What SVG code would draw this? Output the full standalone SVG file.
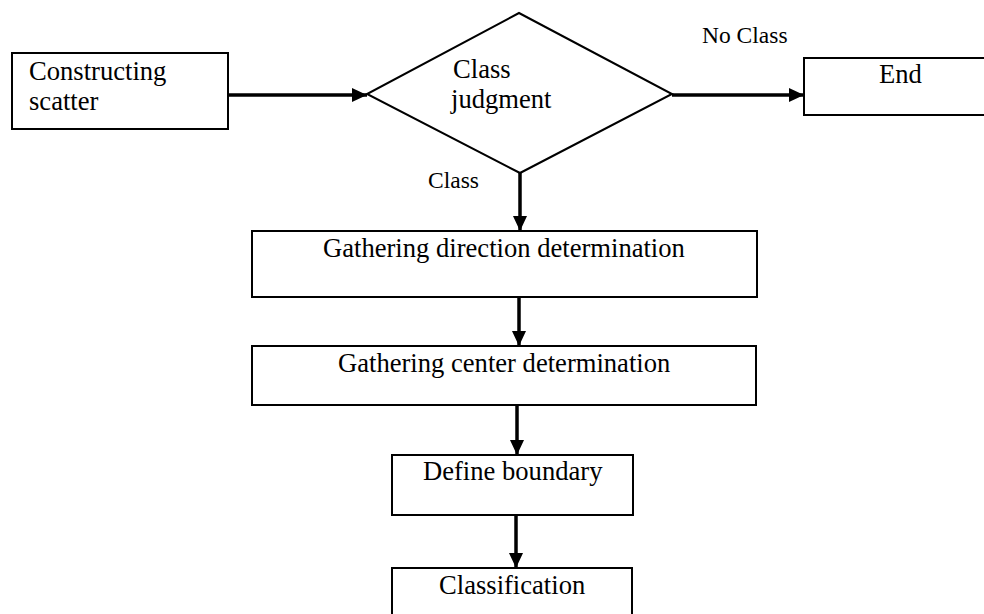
<svg xmlns="http://www.w3.org/2000/svg" width="984" height="614" viewBox="0 0 984 614">
<style>
.box{fill:#fff;stroke:#000;stroke-width:2}
.t{font-family:"Liberation Serif","Times New Roman",serif;font-size:26.6px;fill:#000}
.l{font-family:"Liberation Serif","Times New Roman",serif;font-size:23.5px;fill:#000}
.c{stroke:#000;stroke-width:3.5;fill:none;marker-end:url(#ah)}
</style>
<defs>
<marker id="ah" markerUnits="userSpaceOnUse" markerWidth="15" markerHeight="15" viewBox="0 0 15 15" refX="15" refY="7.5" orient="auto">
<path d="M0,0.5 L15,7.5 L0,14.5 Z" fill="#000"/>
</marker>
</defs>
<rect width="984" height="614" fill="#fff"/>
<g id="connectors">
<line class="c" x1="228" y1="95" x2="367" y2="95"/>
<line class="c" x1="672" y1="95" x2="804" y2="95"/>
<line class="c" x1="520" y1="173" x2="520" y2="231"/>
<line class="c" x1="519" y1="297" x2="519" y2="346"/>
<line class="c" x1="517" y1="405" x2="517" y2="455"/>
<line class="c" x1="516" y1="515" x2="516" y2="568"/>
<text class="l" x="702" y="43">No Class</text>
<text class="l" x="428" y="188">Class</text>
</g>
<g id="construct">
<rect class="box" x="12" y="53" width="216" height="76"/>
<text class="t" x="29" y="80">Constructing</text>
<text class="t" x="29" y="110">scatter</text>
</g>
<g id="judgment">
<polygon class="box" points="519,13 672,94 520,173 367,94"/>
<text class="t" x="453" y="78">Class</text>
<text class="t" x="451" y="108">judgment</text>
</g>
<g id="end">
<rect class="box" x="804" y="58" width="190" height="57"/>
<text class="t" x="879" y="83">End</text>
</g>
<g id="direction">
<rect class="box" x="252" y="231" width="505" height="66"/>
<text class="t" x="323" y="257">Gathering direction determination</text>
</g>
<g id="center">
<rect class="box" x="252" y="346" width="504" height="59"/>
<text class="t" x="338" y="372">Gathering center determination</text>
</g>
<g id="boundary">
<rect class="box" x="392" y="455" width="241" height="60"/>
<text class="t" x="423" y="480">Define boundary</text>
</g>
<g id="classification">
<rect class="box" x="392" y="568" width="240" height="60"/>
<text class="t" x="439" y="594">Classification</text>
</g>
</svg>
